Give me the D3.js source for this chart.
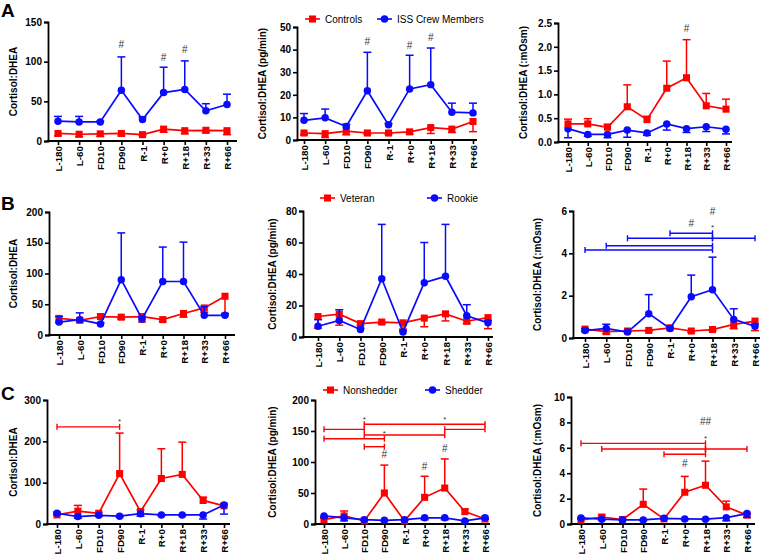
<!DOCTYPE html>
<html><head><meta charset="utf-8">
<script src="https://cdn.jsdelivr.net/npm/d3@7"></script>
<style>
html,body{margin:0;padding:0;background:#fff;}
svg{display:block;font-family:"Liberation Sans",Arial,sans-serif;}
</style></head>
<body>
<svg id="chart" width="765" height="555"></svg>
<script>
const categories = ["L-180","L-60","FD10","FD90","R-1","R+0","R+18","R+33","R+66"];

// ---- Row A: Controls vs ISS Crew Members ----
const a1Controls    = [9.5, 8.5, 9, 9.5, 8, 15, 13, 13.5, 13];
const a1ControlsErr = [3, 3, 3, 3, 1, 4, 4, 3, 5];
const a1Crew        = [25, 24, 24, 64, 27, 61, 65, 38, 46];
const a1CrewErr     = [6, 7, 1, 42, 3, 32, 36, 9, 13];
const a1Ticks = [0, 50, 100, 150];
const a1Marks = [[3, 122, "#"], [5, 106, "#"], [6, 115, "#"]];

const a2Controls    = [3.1, 2.8, 3.9, 3.1, 3.1, 3.6, 5.5, 4.8, 8.2];
const a2ControlsErr = [0.8, 1.7, 1.6, 0.5, 0.5, 0.9, 2.6, 1.5, 4.5];
const a2Crew        = [8.7, 9.8, 6.0, 21.8, 6.7, 22.6, 24.5, 12.3, 12.0];
const a2CrewErr     = [3, 3.9, 1, 17, 0.6, 14.9, 16.2, 4, 4.3];
const a2Ticks = [0, 10, 20, 30, 40, 50];
const a2Marks = [[3, 43.5, "#"], [5, 42, "#"], [6, 45.4, "#"]];

const a3Controls    = [0.38, 0.38, 0.31, 0.74, 0.47, 1.13, 1.35, 0.76, 0.69];
const a3ControlsErr = [0.1, 0.11, 0.06, 0.46, 0.07, 0.57, 0.8, 0.26, 0.21];
const a3Crew        = [0.28, 0.16, 0.16, 0.25, 0.19, 0.38, 0.28, 0.32, 0.27];
const a3CrewErr     = [0.19, 0.04, 0.07, 0.15, 0.05, 0.13, 0.08, 0.1, 0.1];
const a3Ticks = [0, 0.5, 1.0, 1.5, 2.0, 2.5];
const a3Marks = [[6, 2.39, "#"]];

// ---- Row B: Veteran vs Rookie ----
const b1Veteran    = [27, 24, 30, 29, 30, 25, 35, 44, 63];
const b1VeteranErr = [7, 3, 2, 3, 9, 3, 6, 7, 31];
const b1Rookie     = [21, 25, 18, 90, 26, 87, 87, 32, 32];
const b1RookieErr  = [9, 11, 2, 76, 4, 56, 64, 14, 3];
const b1Ticks = [0, 50, 100, 150, 200];

const b2Veteran    = [13, 14.5, 8.5, 9.5, 9, 12, 14.7, 10, 12.3];
const b2VeteranErr = [7.5, 7, 1, 1, 4, 5.5, 4.5, 1.5, 7];
const b2Rookie     = [6.8, 10.5, 4.8, 37, 3.2, 34.5, 38.5, 13.5, 9];
const b2RookieErr  = [4.2, 6.8, 0.8, 34.5, 0.8, 25.5, 33, 7, 1.5];
const b2Ticks = [0, 20, 40, 60, 80];

const b3Veteran    = [0.42, 0.3, 0.33, 0.36, 0.48, 0.33, 0.4, 0.64, 0.8];
const b3VeteranErr = [0.1, 0.1, 0.05, 0.05, 0.05, 0.05, 0.05, 0.2, 0.45];
const b3Rookie     = [0.35, 0.45, 0.28, 1.15, 0.45, 1.95, 2.28, 0.88, 0.55];
const b3RookieErr  = [0.1, 0.2, 0.05, 0.9, 0.05, 1.02, 1.54, 0.5, 0.1];
const b3Ticks = [0, 2, 4, 6];
const b3Brackets = [[4, 6, 4.95], [2, 6, 4.71], [6, 8, 4.71], [1, 6, 4.36], [0, 6, 4.16]];
const b3Marks = [[5, 5.42, "#"], [6, 5.97, "#"], [6, 5.37, "*"]];

// ---- Row C: Nonshedder vs Shedder ----
const c1Nonshedder    = [22, 31, 26, 122, 30, 110, 120, 57, 44];
const c1NonshedderErr = [6, 14, 2, 98, 4, 72, 78, 8, 4];
const c1Shedder       = [26, 18, 21, 19, 25, 22, 22, 22, 46];
const c1ShedderErr    = [4, 4, 2, 2, 6, 2, 2, 10, 22];
const c1Ticks = [0, 100, 200, 300];
const c1Brackets = [[0, 3, 235]];
const c1Marks = [[3, 256, "*"]];

const c2Nonshedder    = [7, 13, 5, 50, 5, 43, 58, 20, 8];
const c2NonshedderErr = [2, 8, 1, 45, 1, 34, 47, 4, 1];
const c2Shedder       = [13, 10, 7, 6, 7, 10, 10, 5, 10];
const c2ShedderErr    = [2, 5, 1, 1, 1, 3, 3, 1, 2];
const c2Ticks = [0, 50, 100, 150, 200];
const c2Brackets = [[2, 8, 161], [0, 2, 152.7], [6, 8, 152.7], [2, 6, 143.5], [0, 3, 137.6], [2, 3, 124.7]];
const c2Marks = [[2, 173, "*"], [6, 173, "*"], [3, 151.6, "*"], [3, 113, "#"], [5, 93.5, "#"], [6, 122.6, "#"]];

const c3Nonshedder    = [0.3, 0.55, 0.35, 1.55, 0.4, 2.5, 3.05, 1.35, 0.7];
const c3NonshedderErr = [0.1, 0.15, 0.05, 1.2, 0.05, 1.25, 1.9, 0.45, 0.1];
const c3Shedder       = [0.48, 0.38, 0.33, 0.32, 0.45, 0.4, 0.38, 0.5, 0.82];
const c3ShedderErr    = [0.05, 0.05, 0.05, 0.05, 0.05, 0.05, 0.05, 0.25, 0.3];
const c3Ticks = [0, 2, 4, 6, 8, 10];
const c3Brackets = [[0, 6, 6.35], [1, 6, 5.9], [6, 8, 5.9], [4, 6, 5.49]];
const c3Marks = [[6, 8.06, "##"], [6, 6.95, "*"], [5, 4.78, "#"]];

const RED = "#ff0000", BLUE = "#0a0aff";
const TITLE1 = "Cortisol:DHEA", TITLE2 = "Cortisol:DHEA (pg/min)", TITLE3 = "Cortisol:DHEA (:mOsm)";

const legends = [
  {y: 19, items: [{label: "Controls", color: RED, shape: "square", x: 305}, {label: "ISS Crew Members", color: BLUE, shape: "circle", x: 377}]},
  {y: 198, items: [{label: "Veteran", color: RED, shape: "square", x: 320}, {label: "Rookie", color: BLUE, shape: "circle", x: 427}]},
  {y: 390, items: [{label: "Nonshedder", color: RED, shape: "square", x: 323}, {label: "Shedder", color: BLUE, shape: "circle", x: 425}]}
];
const letters = [["A", 1, 17], ["B", 1, 210], ["C", 1, 400]];

const panels = [
  {x0: 48, x1: 237, first: 58, last: 227, top: 22, bot: 141, max: 150, ticks: a1Ticks, fmt: d3.format("d"), title: TITLE1, tx: 13,
   series: [{v: a1Controls, e: a1ControlsErr, c: RED, s: "square", dir: -1}, {v: a1Crew, e: a1CrewErr, c: BLUE, s: "circle", dir: 1}], marks: a1Marks, brackets: []},
  {x0: 297, x1: 477, first: 304, last: 473, top: 27, bot: 140, max: 50, ticks: a2Ticks, fmt: d3.format("d"), title: TITLE2, tx: 262,
   series: [{v: a2Controls, e: a2ControlsErr, c: RED, s: "square", dir: -1}, {v: a2Crew, e: a2CrewErr, c: BLUE, s: "circle", dir: 1}], marks: a2Marks, brackets: []},
  {x0: 558, x1: 732, first: 568, last: 726, top: 23, bot: 142, max: 2.5, ticks: a3Ticks, fmt: d3.format(".1f"), title: TITLE3, tx: 523,
   series: [{v: a3Crew, e: a3CrewErr, c: BLUE, s: "circle", dir: -1}, {v: a3Controls, e: a3ControlsErr, c: RED, s: "square", dir: 1}], marks: a3Marks, brackets: []},
  {x0: 49, x1: 235, first: 59, last: 225, top: 212, bot: 335, max: 200, ticks: b1Ticks, fmt: d3.format("d"), title: TITLE1, tx: 13,
   series: [{v: b1Veteran, e: b1VeteranErr, c: RED, s: "square", dir: -1}, {v: b1Rookie, e: b1RookieErr, c: BLUE, s: "circle", dir: 1}], marks: [], brackets: []},
  {x0: 303, x1: 493, first: 318, last: 488, top: 211, bot: 337, max: 80, ticks: b2Ticks, fmt: d3.format("d"), title: TITLE2, tx: 272,
   series: [{v: b2Veteran, e: b2VeteranErr, c: RED, s: "square", dir: -1}, {v: b2Rookie, e: b2RookieErr, c: BLUE, s: "circle", dir: 1}], marks: [], brackets: []},
  {x0: 573, x1: 760, first: 585, last: 755, top: 211, bot: 338, max: 6, ticks: b3Ticks, fmt: d3.format("d"), title: TITLE3, tx: 537,
   series: [{v: b3Veteran, e: b3VeteranErr, c: RED, s: "square", dir: -1}, {v: b3Rookie, e: b3RookieErr, c: BLUE, s: "circle", dir: 1}], marks: b3Marks, brackets: b3Brackets, bc: BLUE},
  {x0: 47, x1: 230, first: 57, last: 224, top: 400, bot: 524, max: 300, ticks: c1Ticks, fmt: d3.format("d"), title: TITLE1, tx: 13,
   series: [{v: c1Nonshedder, e: c1NonshedderErr, c: RED, s: "square", dir: 1}, {v: c1Shedder, e: c1ShedderErr, c: BLUE, s: "circle", dir: -1}], marks: c1Marks, brackets: c1Brackets, bc: RED},
  {x0: 315, x1: 490, first: 324, last: 485, top: 400, bot: 524, max: 200, ticks: c2Ticks, fmt: d3.format("d"), title: TITLE2, tx: 272,
   series: [{v: c2Nonshedder, e: c2NonshedderErr, c: RED, s: "square", dir: 1}, {v: c2Shedder, e: c2ShedderErr, c: BLUE, s: "circle", dir: -1}], marks: c2Marks, brackets: c2Brackets, bc: RED},
  {x0: 571, x1: 755, first: 581, last: 747, top: 397, bot: 524, max: 10, ticks: c3Ticks, fmt: d3.format("d"), title: TITLE3, tx: 537,
   series: [{v: c3Nonshedder, e: c3NonshedderErr, c: RED, s: "square", dir: 1}, {v: c3Shedder, e: c3ShedderErr, c: BLUE, s: "circle", dir: -1}], marks: c3Marks, brackets: c3Brackets, bc: RED}
];

const svg = d3.select("#chart");
const symSquare = d3.symbol().type(d3.symbolSquare).size(50);
const symCircle = d3.symbol().type(d3.symbolCircle).size(44);

panels.forEach(p => {
  const g = svg.append("g");
  const x = d3.scalePoint().domain(categories).range([p.first, p.last]);
  const y = d3.scaleLinear().domain([0, p.max]).range([p.bot, p.top]);

  // y axis
  const ya = g.append("g").attr("transform", `translate(${p.x0},0)`)
    .call(d3.axisLeft(y).tickValues(p.ticks).tickFormat(p.fmt).tickSizeOuter(0).tickSize(4).tickPadding(2));
  ya.select(".domain").attr("stroke-width", 1.8).attr("stroke", "#000");
  ya.selectAll(".tick line").attr("stroke-width", 1.6);
  ya.selectAll("text").attr("font-size", 10).attr("font-weight", "bold").attr("fill", "#000")
    .attr("font-family", "'Liberation Sans',Arial,sans-serif");

  // x axis
  const xa = g.append("g").attr("transform", `translate(0,${p.bot})`)
    .call(d3.axisBottom(x).tickSizeOuter(0).tickSize(4));
  xa.select(".domain").remove();
  xa.append("line").attr("x1", p.x0 - 1).attr("x2", p.x1).attr("stroke", "#000").attr("stroke-width", 1.8);
  xa.selectAll(".tick line").attr("stroke-width", 1.6);
  xa.selectAll("text").attr("font-size", 9.8).attr("font-weight", "bold").attr("fill", "#000")
    .attr("font-family", "'Liberation Sans',Arial,sans-serif")
    .attr("y", 0).attr("x", -5).attr("dy", "0.36em")
    .attr("transform", "rotate(-90)").style("text-anchor", "end");

  // y title
  const cy = (p.top + p.bot) / 2;
  g.append("text").attr("x", p.tx).attr("y", cy).attr("dy", "0.36em")
    .attr("transform", `rotate(-90,${p.tx},${cy})`).attr("text-anchor", "middle")
    .attr("font-size", 10).attr("font-weight", "bold").text(p.title);

  // series
  p.series.forEach(s => {
    const pts = categories.map((c, i) => ({c, v: s.v[i], e: s.e[i]}));
    const eb = g.append("g").attr("stroke", s.c).attr("stroke-width", 1.5).attr("fill", "none");
    pts.forEach(d => {
      const xv = x(d.c), y0 = y(d.v), y1 = y(d.v + s.dir * d.e);
      eb.append("line").attr("x1", xv).attr("x2", xv).attr("y1", y0).attr("y2", y1);
      eb.append("line").attr("x1", xv - 4).attr("x2", xv + 4).attr("y1", y1).attr("y2", y1);
    });
    g.append("path").datum(pts)
      .attr("d", d3.line().x(d => x(d.c)).y(d => y(d.v)))
      .attr("fill", "none").attr("stroke", s.c).attr("stroke-width", 1.7);
    g.selectAll(null).data(pts).enter().append("path")
      .attr("d", s.s === "square" ? symSquare : symCircle)
      .attr("transform", d => `translate(${x(d.c)},${y(d.v)})`)
      .attr("fill", s.c);
  });

  // brackets
  p.brackets.forEach(b => {
    const xa1 = x(categories[b[0]]), xa2 = x(categories[b[1]]), yy = y(b[2]);
    const bg = g.append("g").attr("stroke", p.bc).attr("stroke-width", 1.4);
    bg.append("line").attr("x1", xa1).attr("x2", xa2).attr("y1", yy).attr("y2", yy);
    bg.append("line").attr("x1", xa1).attr("x2", xa1).attr("y1", yy - 3).attr("y2", yy + 3);
    bg.append("line").attr("x1", xa2).attr("x2", xa2).attr("y1", yy - 3).attr("y2", yy + 3);
  });

  // annotations
  p.marks.forEach(m => {
    g.append("text").attr("x", x(categories[m[0]])).attr("y", y(m[1]))
      .attr("dy", m[2] === "*" ? "0.7em" : "0.36em").attr("text-anchor", "middle")
      .attr("font-size", m[2] === "*" ? 8 : 10).attr("fill", "#333").text(m[2]);
  });
});

// legends
legends.forEach(L => {
  L.items.forEach(it => {
    const g = svg.append("g");
    g.append("line").attr("x1", it.x).attr("x2", it.x + 15).attr("y1", L.y).attr("y2", L.y)
      .attr("stroke", it.color).attr("stroke-width", 1.6);
    g.append("path").attr("d", it.shape === "square" ? symSquare : symCircle)
      .attr("transform", `translate(${it.x + 7.5},${L.y})`).attr("fill", it.color);
    g.append("text").attr("x", it.x + 20).attr("y", L.y).attr("dy", "0.36em")
      .attr("font-size", 10).attr("fill", "#000").text(it.label);
  });
});

// panel letters
letters.forEach(l => {
  svg.append("text").attr("x", l[1]).attr("y", l[2]).attr("font-size", 19)
    .attr("font-weight", "bold").attr("font-family", "'Liberation Sans',Arial,sans-serif").text(l[0]);
});
</script>
</body></html>
